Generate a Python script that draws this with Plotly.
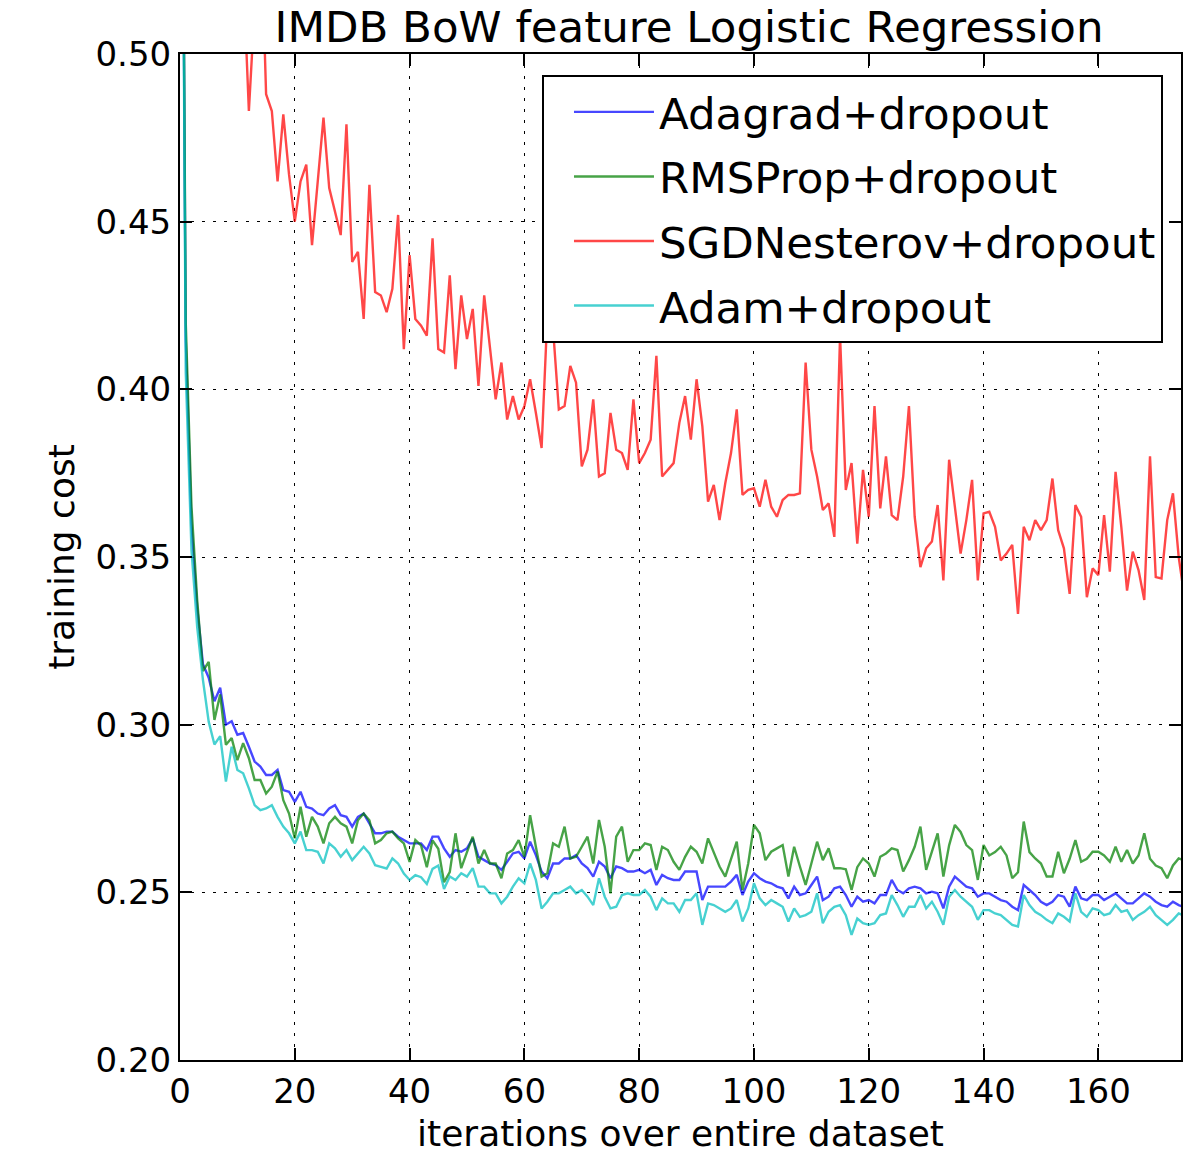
import plotly.graph_objects as go

iterations = list(range(176))

adagrad = [0.693, 0.415, 0.360, 0.335, 0.318, 0.314, 0.307, 0.311, 0.300, 0.301, 0.297, 0.2975, 0.2934, 0.289, 0.2875, 0.285, 0.285, 0.2865, 0.2805, 0.280,
           0.277, 0.280, 0.2755, 0.275, 0.2735, 0.273, 0.275, 0.276, 0.273, 0.2725, 0.2696, 0.2725, 0.2735, 0.2706, 0.2676, 0.2676, 0.2681, 0.2681, 0.2666, 0.2656,
           0.2646, 0.2646, 0.2646, 0.2626, 0.2666, 0.2666, 0.2631, 0.2606, 0.2626, 0.2621, 0.2631, 0.2661, 0.2606, 0.2596, 0.2586, 0.2581, 0.2567, 0.2591, 0.2616, 0.2621,
           0.2601, 0.2651, 0.2611, 0.2562, 0.2542, 0.2586, 0.2586, 0.2601, 0.2601, 0.2611, 0.2586, 0.2572, 0.2547, 0.2591, 0.2577, 0.2542, 0.2577, 0.2572, 0.2562, 0.2562,
           0.2567, 0.2557, 0.2567, 0.2522, 0.2552, 0.2542, 0.2537, 0.2537, 0.2562, 0.2562, 0.2562, 0.2477, 0.2517, 0.2517, 0.2517, 0.2517, 0.2532, 0.2552, 0.2492, 0.2532,
           0.2557, 0.2542, 0.2532, 0.2527, 0.2517, 0.2512, 0.2482, 0.2517, 0.2492, 0.2497, 0.2522, 0.2547, 0.2477, 0.2487, 0.2512, 0.2517, 0.2492, 0.2457, 0.2487, 0.2472,
           0.2477, 0.2467, 0.2492, 0.2492, 0.2537, 0.2507, 0.2497, 0.2512, 0.2517, 0.2512, 0.2497, 0.2502, 0.2497, 0.2452, 0.2517, 0.2547, 0.2532, 0.2517, 0.2512, 0.2487,
           0.2497, 0.2497, 0.2487, 0.2477, 0.2472, 0.2457, 0.2447, 0.2522, 0.2507, 0.2492, 0.2472, 0.2462, 0.2472, 0.2492, 0.2487, 0.2457, 0.2517, 0.2482, 0.2477, 0.2492,
           0.2492, 0.2477, 0.2487, 0.2497, 0.2482, 0.2467, 0.2467, 0.2482, 0.2497, 0.2487, 0.2472, 0.2462, 0.2457, 0.2472, 0.2462, 0.2455]

rmsprop = [0.693, 0.420, 0.365, 0.337, 0.316, 0.3187, 0.3014, 0.309, 0.294, 0.296, 0.2894, 0.2945, 0.2900, 0.2835, 0.2835, 0.2795, 0.2815, 0.286, 0.2775, 0.2735,
           0.2661, 0.2755, 0.2666, 0.2725, 0.2696, 0.2646, 0.2706, 0.2725, 0.2706, 0.2696, 0.2646, 0.2715, 0.2735, 0.2715, 0.2646, 0.2656, 0.2676, 0.2681, 0.2661, 0.2646,
           0.2591, 0.2656, 0.2640, 0.2575, 0.2655, 0.2630, 0.2530, 0.2560, 0.2676, 0.2572, 0.2620, 0.2666, 0.2586, 0.2626, 0.2586, 0.2586, 0.2542, 0.2616, 0.2626, 0.2656,
           0.2606, 0.2730, 0.2636, 0.2547, 0.2557, 0.2646, 0.2636, 0.2696, 0.2601, 0.2606, 0.2636, 0.2666, 0.2586, 0.2716, 0.2636, 0.2497, 0.2666, 0.2696, 0.2591, 0.2626,
           0.2626, 0.2646, 0.2641, 0.2567, 0.2636, 0.2626, 0.2591, 0.2567, 0.2606, 0.2636, 0.2621, 0.2586, 0.2661, 0.2616, 0.2577, 0.2547, 0.2596, 0.2651, 0.2507, 0.2586,
           0.2701, 0.2676, 0.2596, 0.2621, 0.2631, 0.2641, 0.2547, 0.2636, 0.2577, 0.2522, 0.2586, 0.2651, 0.2596, 0.2631, 0.2572, 0.2572, 0.2569, 0.2507, 0.2575, 0.2601,
           0.2586, 0.2547, 0.2606, 0.2616, 0.2631, 0.2626, 0.2562, 0.2596, 0.2636, 0.2696, 0.2567, 0.2620, 0.2676, 0.2547, 0.2640, 0.2701, 0.2680, 0.2641, 0.2626, 0.2537,
           0.2641, 0.2610, 0.2620, 0.2636, 0.2610, 0.2542, 0.2560, 0.2711, 0.2620, 0.2601, 0.2586, 0.2547, 0.2547, 0.2621, 0.2557, 0.2600, 0.2656, 0.2591, 0.2600, 0.2621,
           0.2621, 0.2610, 0.2591, 0.2636, 0.2591, 0.2626, 0.2586, 0.2610, 0.2676, 0.2600, 0.2580, 0.2572, 0.2542, 0.2580, 0.2601, 0.2596]

sgd_nesterov = [0.693, 0.640, 0.610, 0.595, 0.580, 0.570, 0.560, 0.553, 0.545, 0.538, 0.530, 0.525, 0.483, 0.510, 0.545, 0.488, 0.483, 0.462, 0.482, 0.464,
                0.450, 0.462, 0.467, 0.443, 0.462, 0.481, 0.460, 0.453, 0.446, 0.479, 0.438, 0.441, 0.421, 0.461, 0.429, 0.428, 0.423, 0.430, 0.452, 0.412,
                0.440, 0.421, 0.419, 0.416, 0.445, 0.412, 0.411, 0.434, 0.406, 0.428, 0.415, 0.424, 0.401, 0.428, 0.413, 0.397, 0.408, 0.391, 0.398, 0.391,
                0.395, 0.403, 0.393, 0.3825, 0.422, 0.418, 0.394, 0.395, 0.407, 0.402, 0.377, 0.382, 0.397, 0.374, 0.375, 0.393, 0.382, 0.381, 0.376, 0.397,
                0.378, 0.381, 0.385, 0.410, 0.374, 0.376, 0.378, 0.390, 0.398, 0.385, 0.403, 0.389, 0.3665, 0.3715, 0.361, 0.372, 0.381, 0.394, 0.3685, 0.370,
                0.3705, 0.365, 0.373, 0.365, 0.362, 0.367, 0.3685, 0.3685, 0.369, 0.408, 0.382, 0.374, 0.364, 0.366, 0.356, 0.416, 0.370, 0.378, 0.354, 0.376,
                0.362, 0.395, 0.3645, 0.380, 0.3625, 0.361, 0.374, 0.395, 0.362, 0.347, 0.3526, 0.3546, 0.3655, 0.343, 0.379, 0.365, 0.351, 0.361, 0.373, 0.343,
                0.363, 0.3635, 0.359, 0.349, 0.351, 0.3536, 0.333, 0.359, 0.355, 0.361, 0.358, 0.361, 0.3734, 0.358, 0.3526, 0.339, 0.3655, 0.362, 0.338, 0.3466,
                0.3446, 0.3625, 0.3456, 0.3754, 0.359, 0.340, 0.3516, 0.3461, 0.3372, 0.380, 0.344, 0.3436, 0.361, 0.369, 0.350, 0.338]

adam = [0.693, 0.405, 0.352, 0.329, 0.3133, 0.3009, 0.2941, 0.2966, 0.283, 0.2934, 0.2865, 0.2855, 0.281, 0.276, 0.2745, 0.275, 0.276, 0.2725, 0.2696, 0.2676,
        0.2646, 0.2681, 0.2626, 0.2626, 0.2621, 0.2586, 0.2646, 0.2631, 0.2606, 0.2626, 0.2596, 0.2616, 0.2636, 0.2616, 0.2581, 0.2576, 0.2571, 0.2601, 0.2586, 0.2556,
        0.2537, 0.2551, 0.2545, 0.2525, 0.2570, 0.2580, 0.2510, 0.2547, 0.2537, 0.2557, 0.2547, 0.2572, 0.2517, 0.2517, 0.2497, 0.2497, 0.2467, 0.2487, 0.2517, 0.2542,
        0.2527, 0.2586, 0.2537, 0.2452, 0.2472, 0.2497, 0.2497, 0.2507, 0.2517, 0.2497, 0.2507, 0.2487, 0.2462, 0.2542, 0.2487, 0.2452, 0.2457, 0.2492, 0.2497, 0.2492,
        0.2492, 0.2507, 0.2487, 0.2447, 0.2482, 0.2467, 0.2467, 0.2442, 0.2477, 0.2477, 0.2497, 0.2403, 0.2467, 0.2462, 0.2452, 0.2442, 0.2452, 0.2477, 0.2413, 0.2452,
        0.2527, 0.2482, 0.2462, 0.2477, 0.2467, 0.2457, 0.2413, 0.2452, 0.2427, 0.2432, 0.2442, 0.2497, 0.2408, 0.2442, 0.2457, 0.2462, 0.2432, 0.2373, 0.2422, 0.2408,
        0.2403, 0.2408, 0.2432, 0.2437, 0.2492, 0.2462, 0.2427, 0.2457, 0.2457, 0.2492, 0.2452, 0.2472, 0.2442, 0.2403, 0.2487, 0.2507, 0.2487, 0.2472, 0.2457, 0.2418,
        0.2447, 0.2447, 0.2437, 0.2432, 0.2418, 0.2403, 0.2398, 0.2492, 0.2462, 0.2442, 0.2432, 0.2418, 0.2408, 0.2437, 0.2427, 0.2413, 0.2497, 0.2442, 0.2427, 0.2452,
        0.2447, 0.2432, 0.2437, 0.2462, 0.2442, 0.2447, 0.2418, 0.2432, 0.2442, 0.2457, 0.2432, 0.2418, 0.2403, 0.2418, 0.2437, 0.2430]

series_names = ["Adagrad+dropout", "RMSProp+dropout", "SGDNesterov+dropout", "Adam+dropout"]
series_values = [adagrad, rmsprop, sgd_nesterov, adam]
series_colors = ["rgba(0,0,255,0.72)", "rgba(0,128,0,0.72)", "rgba(255,0,0,0.72)", "rgba(0,191,191,0.72)"]

x_ticks = [0, 20, 40, 60, 80, 100, 120, 140, 160]
y_ticks = [0.20, 0.25, 0.30, 0.35, 0.40, 0.45, 0.50]

fig = go.Figure()
for i, (name, vals, col) in enumerate(zip(series_names, series_values, series_colors)):
    fig.add_trace(go.Scatter(x=iterations, y=vals, mode="lines", name=name,
                             legendgroup="g%d" % i,
                             line=dict(color=col, width=2.4)))

FONT = "DejaVu Sans"
axis_common = dict(
    showline=True, linecolor="black", linewidth=2, mirror="ticks",
    ticks="inside", ticklen=12, tickwidth=1.5, tickcolor="black",
    showgrid=True, gridcolor="black", gridwidth=1.4, griddash="3px,8px",
    zeroline=False, tickfont=dict(family=FONT, size=34, color="black"),
)

fig.update_layout(
    width=1184, height=1154,
    margin=dict(l=180, r=1, t=54, b=94),
    paper_bgcolor="white", plot_bgcolor="white",
    font=dict(family=FONT, color="black"),
    title=dict(text="IMDB BoW feature Logistic Regression", x=0.582, xanchor="center",
               y=1 - 27 / 1154, yanchor="middle", yref="container",
               font=dict(family=FONT, size=43.5, color="black")),
    xaxis=dict(range=[0, 174.4], tickvals=x_ticks,
               title=dict(text="iterations over entire dataset", standoff=14,
                          font=dict(family=FONT, size=36, color="black")),
               **axis_common),
    yaxis=dict(range=[0.20, 0.50], tickvals=y_ticks, tickformat=".2f",
               title=dict(text="training cost", standoff=10,
                          font=dict(family=FONT, size=36, color="black")),
               **axis_common),
    legend=dict(x=0.982, xanchor="right", y=0.979, yanchor="top",
                bgcolor="white", bordercolor="black", borderwidth=2,
                font=dict(family=FONT, size=43.5, color="black"),
                indentation=25, itemwidth=80, tracegroupgap=5, traceorder="grouped"),
    showlegend=True,
)

fig.write_html("out.html")
